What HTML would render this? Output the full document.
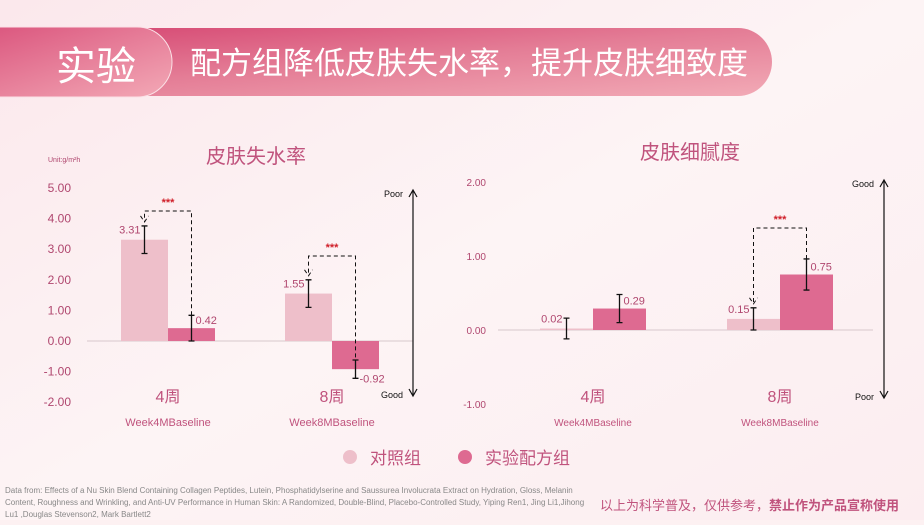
<!DOCTYPE html>
<html><head><meta charset="utf-8">
<style>
body{margin:0;width:924px;height:520px;overflow:hidden;background:#fdf1f2;font-family:"Liberation Sans","Noto Sans CJK SC",sans-serif;}
svg text{font-family:"Liberation Sans","Noto Sans CJK SC",sans-serif;}
</style></head>
<body>
<svg width="924" height="520">
<defs>
<linearGradient id="bg" x1="0" y1="0" x2="1" y2="1"><stop offset="0" stop-color="#fbe8ec"/><stop offset="0.5" stop-color="#fdf4f5"/><stop offset="1" stop-color="#fcedf0"/></linearGradient>
<linearGradient id="ban" x1="0" y1="0" x2="1" y2="1"><stop offset="0" stop-color="#d4416e"/><stop offset="0.5" stop-color="#e47d96"/><stop offset="1" stop-color="#f2aab6"/></linearGradient>
<linearGradient id="pill" x1="0" y1="0" x2="1" y2="1"><stop offset="0" stop-color="#d9507a"/><stop offset="1" stop-color="#f3a9b6"/></linearGradient>
</defs>
<rect width="924" height="520" fill="url(#bg)"/>
<rect x="-40" y="28" width="812" height="68" rx="34" fill="url(#ban)"/>
<rect x="-40" y="27" width="212" height="70" rx="35" fill="url(#pill)" stroke="#fbe0e6" stroke-width="1"/>
<text x="96" y="80" font-size="40" fill="#fff" text-anchor="middle">实验</text>
<text x="190" y="74" font-size="31" fill="#fff">配方组降低皮肤失水率，提升皮肤细致度</text>
<g id="c1"></g><g id="c2"></g>
<g>
<circle cx="350" cy="457" r="7" fill="#eebfca"/>
<text x="370" y="464" font-size="17" fill="#c0537d">对照组</text>
<circle cx="465" cy="457" r="7" fill="#de6a91"/>
<text x="485" y="464" font-size="17" fill="#c0537d">实验配方组</text>
</g>
<g font-size="8" fill="#888">
<text x="5" y="493">Data from:   Effects of a Nu Skin Blend Containing Collagen Peptides, Lutein, Phosphatidylserine and Saussurea Involucrata Extract on Hydration, Gloss, Melanin</text>
<text x="5" y="505">Content, Roughness and Wrinkling, and Anti-UV Performance in Human Skin: A Randomized, Double-Blind, Placebo-Controlled Study,  Yiping Ren1, Jing Li1,Jihong</text>
<text x="5" y="517">Lu1 ,Douglas Stevenson2, Mark Bartlett2</text>
</g>
<text x="600" y="510" font-size="13" fill="#c0537d">以上为科学普及，仅供参考，<tspan font-weight="bold">禁止作为产品宣称使用</tspan></text>
</svg>
<script>
const cats=["4周","8周"];
const subs=["Week4MBaseline","Week8MBaseline"];
const tewlControl=[3.31,1.55];
const tewlTest=[0.42,-0.92];
const tewlControlErr=[0.45,0.45];
const tewlTestErr=[0.42,0.3];
const tewlTicks=[5,4,3,2,1,0,-1,-2];
const smoothControl=[0.02,0.15];
const smoothTest=[0.29,0.75];
const smoothControlErr=[0.14,0.15];
const smoothTestErr=[0.19,0.21];
const smoothTicks=[2,1,0,-1];
const NS="http://www.w3.org/2000/svg";
function mk(p,t,a,txt){const e=document.createElementNS(NS,t);for(const k in a)e.setAttribute(k,a[k]);if(txt!==undefined)e.textContent=txt;p.appendChild(e);return e;}
function chart(g,o){
 const y=v=>o.y0-v*o.unit;
 o.ticks.forEach(t=>{const e=mk(g,'text',{x:o.tickX,y:y(t)+4,'font-size':o.tfs,fill:'#b0476f','text-anchor':'end'},t.toFixed(2));
 
 });
 const b=mk(g,'line',{x1:o.bx0,x2:o.bx1,y1:y(0),y2:y(0),stroke:'#d8c8cc'});
 
 
 const t=mk(g,'text',{x:o.titleX,y:o.titleY,'font-size':20,fill:'#c0537d','text-anchor':'middle'},o.title);
 
 
 cats.forEach((c,i)=>{
  const cx=o.gx[i];
  [[o.ctrl,o.ce,'#eebfca',-1],[o.test,o.te,'#de6a91',0]].forEach(([vals,errs,col,off],j)=>{
   const v=vals[i],x=cx+off*o.bw;
   const r=mk(g,'rect',{x:x,y:Math.min(y(v),y(0)),width:o.bw,height:Math.abs(y(v)-y(0)),fill:col});
   
   
   const ex=x+o.bw/2,e1=y(v+errs[i]),e2=y(v-errs[i]);
   const eb=mk(g,'path',{d:`M${ex},${e1}V${e2}M${ex-3},${e1}h6M${ex-3},${e2}h6`,stroke:'#111','stroke-width':1.3,fill:'none'});
   
   
   const lx=j?ex+4:ex-4, ly=(j&&v<0)?y(v-errs[i])+4:(j?y(v)-4+(o.lblOff||0):y(v)-4);
   const l=mk(g,'text',{x:lx,y:j?ly:y(v)-6,'font-size':11,fill:'#b0476f','text-anchor':j?'start':'end'},v.toFixed(2));
   
   
  });
  const cl=mk(g,'text',{x:cx,y:o.catY,'font-size':16,fill:'#c0537d','text-anchor':'middle'},c);
  
  
  const sl=mk(g,'text',{x:cx,y:o.catY+24,'font-size':o.sfs,fill:'#c0537d','text-anchor':'middle'},subs[i]);
  
  
 });
 o.sig.forEach(s=>{
  const i=s.i,cx=o.gx[i];const xa=cx-o.bw/2,xb=cx+o.bw/2;
  const yt=s.y,ya=y(o.ctrl[i]+o.ce[i])-4,yb=y(o.test[i]+(o.test[i]<0?-o.te[i]:o.te[i]));
  const p=mk(g,'path',{d:`M${xb},${o.test[i]<0?y(o.test[i]-o.te[i]):yb}V${yt}H${xa}V${ya}M${xa-4},${ya-6}L${xa},${ya}L${xa+4},${ya-6}`,stroke:'#111','stroke-dasharray':'4,3',fill:'none'});
  
  
  const st=mk(g,'text',{x:cx,y:yt-5,'font-size':11,'font-weight':'bold',fill:'#d0202a','text-anchor':'middle'},'***');
  
  
 });
 const ar=mk(g,'path',{d:`M${o.ax},${o.ay0}V${o.ay1}M${o.ax-4},${o.ay0+7}L${o.ax},${o.ay0}L${o.ax+4},${o.ay0+7}M${o.ax-4},${o.ay1-7}L${o.ax},${o.ay1}L${o.ax+4},${o.ay1-7}`,stroke:'#111','stroke-width':1.2,fill:'none'});
 
 
 const a1=mk(g,'text',{x:o.ax-10,y:o.ay0+7,'font-size':9,fill:'#111','text-anchor':'end'},o.topLbl);
 
 
 const a2=mk(g,'text',{x:o.ax-10,y:o.ay1+2,'font-size':9,fill:'#111','text-anchor':'end'},o.botLbl);
 
 
}
const g1=document.getElementById('c1');


chart(g1,{y0:341,unit:30.6,ticks:tewlTicks,tickX:71,tfs:12,bx0:87,bx1:413,gx:[168,332],bw:47,ctrl:tewlControl,test:tewlTest,ce:tewlControlErr,te:tewlTestErr,title:'皮肤失水率',titleX:256,titleY:163,catY:402,sfs:11,sig:[{i:0,y:211},{i:1,y:256}],ax:413,ay0:190,ay1:396,topLbl:'Poor',botLbl:'Good'});
const u=mk(g1,'text',{x:48,y:162,'font-size':7,fill:'#b0476f'},'Unit:g/m²h');


const g2=document.getElementById('c2');


chart(g2,{y0:330,unit:74,ticks:smoothTicks,tickX:486,tfs:10,bx0:498,bx1:873,gx:[593,780],bw:53,ctrl:smoothControl,test:smoothTest,ce:smoothControlErr,te:smoothTestErr,title:'皮肤细腻度',titleX:690,titleY:159,catY:402,sfs:10,sig:[{i:1,y:228}],ax:884,ay0:180,ay1:398,topLbl:'Good',botLbl:'Poor'});
</script>
</body></html>
